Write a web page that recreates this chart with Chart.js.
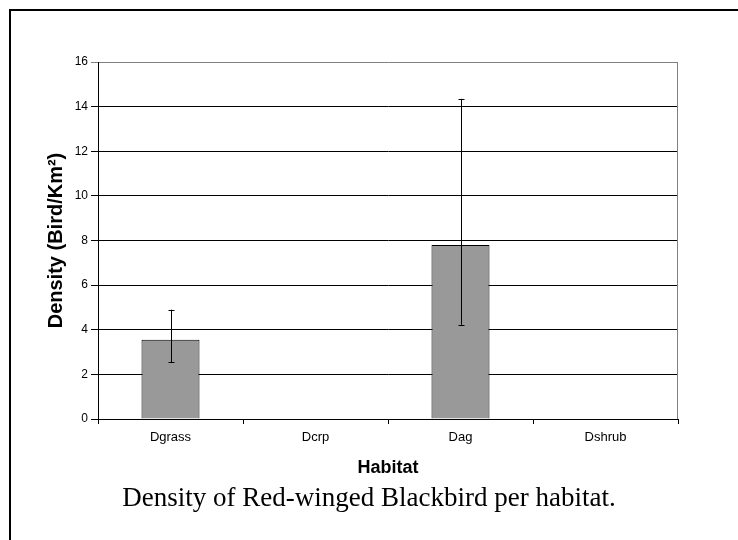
<!DOCTYPE html>
<html>
<head>
<meta charset="utf-8">
<script src="https://cdn.jsdelivr.net/npm/chart.js@4"></script>
<style>
    html, body { margin: 0; padding: 0; background: #fff; }
    #wrap { width: 738px; height: 540px; position: relative; }
    #caption {
        position: absolute; left: 0; top: 481px; width: 738px;
        text-align: center; line-height: 32px;
        font-family: 'Liberation Serif', 'Times New Roman', serif;
        font-size: 27px; color: #000;
    }
</style>
</head>
<body>
<div id="wrap">
    <canvas id="densityChart"></canvas>
    <div id="caption">Density of Red-winged Blackbird per habitat.</div>
</div>
<script>
// Density of Red-winged Blackbird per habitat

const habitats = ['Dgrass', 'Dcrp', 'Dag', 'Dshrub'];
const density = [3.55, 0, 7.8, 0];
const errLow = [2.55, null, 4.22, null];
const errHigh = [4.9, null, 14.35, null];
const yTicks = [0, 2, 4, 6, 8, 10, 12, 14, 16];

// Frame round the picture
const framePlugin = {
    id: 'frame',
    beforeDraw(chart) {
        const c = chart.ctx;
        c.save();
        c.fillStyle = '#fff';
        c.fillRect(0, 0, chart.width, chart.height);
        c.strokeStyle = '#000';
        c.lineWidth = 2;
        c.beginPath();
        c.moveTo(10, chart.height);
        c.lineTo(10, 10);
        c.lineTo(chart.width, 10);
        c.stroke();
        c.restore();
    },
    afterDraw(chart) {
        // gray right border of plot area
        const a = chart.chartArea;
        const c = chart.ctx;
        c.save();
        c.strokeStyle = '#808080';
        c.lineWidth = 1;
        c.beginPath();
        c.moveTo(Math.round(a.right) - 0.5, a.top);
        c.lineTo(Math.round(a.right) - 0.5, a.bottom);
        c.stroke();
        c.restore();
    }
};

// Error bars
const errorBarPlugin = {
    id: 'errorBars',
    afterDatasetsDraw(chart) {
        const x = chart.scales.x;
        const y = chart.scales.y;
        const c = chart.ctx;
        c.save();
        c.strokeStyle = '#000';
        c.lineWidth = 1;
        habitats.forEach((h, i) => {
            if (errLow[i] === null) return;
            const px = Math.round(x.getPixelForValue(i)) + 0.5;
            const top = y.getPixelForValue(errHigh[i]);
            const bot = y.getPixelForValue(errLow[i]);
            c.beginPath();
            c.moveTo(px, top);
            c.lineTo(px, bot);
            c.moveTo(px - 3, Math.round(top) + 0.5);
            c.lineTo(px + 3, Math.round(top) + 0.5);
            c.moveTo(px - 3, Math.round(bot) + 0.5);
            c.lineTo(px + 3, Math.round(bot) + 0.5);
            c.stroke();
        });
        c.restore();
    }
};

const sans = "'Liberation Sans', Arial, sans-serif";

new Chart(document.getElementById('densityChart'), {
    type: 'bar',
    data: {
        labels: habitats,
        datasets: [{
            data: density,
            backgroundColor: '#999999',
            borderColor: '#000',
            borderWidth: 1,
            barPercentage: 0.4,
            categoryPercentage: 1.0
        }]
    },
    options: {
        responsive: true,
        maintainAspectRatio: false,
        animation: false,
        devicePixelRatio: 1,
        layout: {
            padding: { left: 40, right: 60, top: 62, bottom: 61 }
        },
        plugins: {
            legend: { display: false },
            tooltip: { enabled: false },
            title: { display: false }
        },
        scales: {
            x: {
                afterFit(scale) { scale.height = 60; },
                border: { color: '#000', width: 1 },
                grid: {
                    offset: true,
                    drawOnChartArea: false,
                    drawTicks: true,
                    tickLength: 5,
                    color: '#000'
                },
                ticks: {
                    color: '#000',
                    padding: 6,
                    font: { family: sans, size: 13 }
                },
                title: {
                    display: true,
                    text: 'Habitat',
                    color: '#000',
                    font: { family: sans, size: 18, weight: 'bold' },
                    padding: { top: 0, bottom: 0 }
                }
            },
            y: {
                min: 0,
                max: 16,
                afterFit(scale) { scale.width = 58; },
                afterBuildTicks(scale) {
                    scale.ticks = yTicks.map(v => ({ value: v }));
                },
                border: { color: '#000', width: 1 },
                grid: {
                    color: ctx => (ctx.tick && ctx.tick.value === 16 ? '#808080' : '#000'),
                    tickLength: 7
                },
                ticks: {
                    color: '#000',
                    padding: 3,
                    font: { family: sans, size: 12 }
                },
                title: {
                    display: true,
                    text: 'Density (Bird/Km²)',
                    color: '#000',
                    font: { family: sans, size: 20, weight: 'bold' },
                    padding: { top: 4, bottom: 4 }
                }
            }
        }
    },
    plugins: [framePlugin, errorBarPlugin]
});
</script>
</body>
</html>
